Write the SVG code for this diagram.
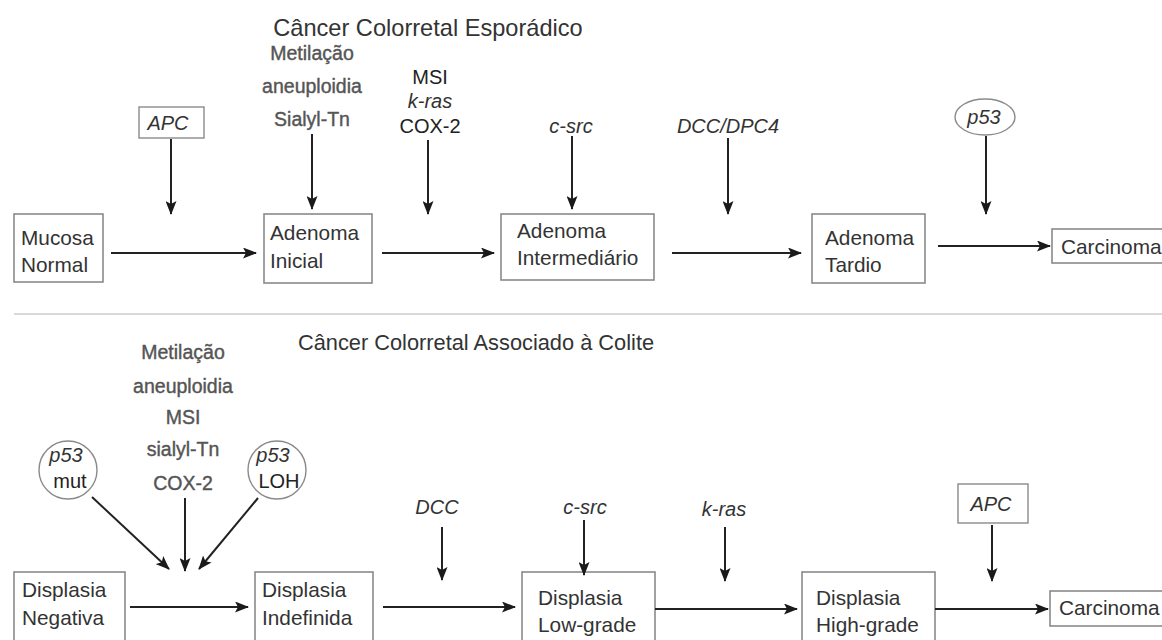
<svg xmlns="http://www.w3.org/2000/svg" width="1162" height="640" viewBox="0 0 1162 640">
<defs>
<marker id="ah" markerUnits="userSpaceOnUse" markerWidth="14" markerHeight="11" refX="13" refY="5.5" orient="auto">
<path d="M0,0 L14,5.5 L0,11 L3,5.5 z" fill="#1a1a1a"/>
</marker>
<style>
.box{fill:#fff;stroke:#8a8a8a;stroke-width:1.6}
.t{font-family:"Liberation Sans",Arial,sans-serif;font-size:20.8px;fill:#333}
.title{font-family:"Liberation Sans",Arial,sans-serif;fill:#333;text-anchor:middle}
.g{font-family:"Liberation Sans",Arial,sans-serif;font-size:19.5px;fill:#555;text-anchor:middle;stroke:#555;stroke-width:0.4}
.k{font-family:"Liberation Sans",Arial,sans-serif;font-size:20px;fill:#222;text-anchor:middle}
.i{font-family:"Liberation Sans",Arial,sans-serif;font-size:20px;fill:#333;font-style:italic;text-anchor:middle}
.c{fill:#fff;stroke:#8a8a8a;stroke-width:1.4}
.e{stroke:#222;stroke-width:2;fill:none;marker-end:url(#ah)}
</style>
</defs>
<rect width="1162" height="640" fill="#fff"/>
<line x1="14" y1="314" x2="1162" y2="314" stroke="#d8d8d8" stroke-width="2"/>
<text class="title" x="428" y="36" font-size="23.6">Câncer Colorretal Esporádico</text>
<text class="title" x="476" y="350" font-size="21.8">Câncer Colorretal Associado à Colite</text>

<g id="labels-top">
<text class="g" x="312" y="60">Metilação</text>
<text class="g" x="312" y="93">aneuploidia</text>
<text class="g" x="312" y="126">Sialyl-Tn</text>
<text class="k" x="430" y="84">MSI</text>
<text class="i" x="430" y="108">k-ras</text>
<text class="k" x="430" y="133">COX-2</text>
<text class="i" x="571" y="133">c-src</text>
<text class="i" x="728" y="133">DCC/DPC4</text>
</g>
<g id="apc-top"><rect class="c" x="139" y="107" width="65" height="31"/><text class="i" x="168" y="130">APC</text></g>
<g id="p53-top"><ellipse class="c" cx="985" cy="117" rx="30" ry="18"/><text class="i" x="984" y="124">p53</text></g>

<g id="mucosa"><rect class="box" x="14" y="214" width="89" height="68"/><text class="t" x="21" y="245">Mucosa</text><text class="t" x="21" y="272">Normal</text></g>
<g id="adenoma-inicial"><rect class="box" x="264" y="214" width="108" height="69"/><text class="t" x="270" y="240">Adenoma</text><text class="t" x="270" y="268">Inicial</text></g>
<g id="adenoma-intermediario"><rect class="box" x="501" y="214" width="153" height="66"/><text class="t" x="517" y="238">Adenoma</text><text class="t" x="517" y="265">Intermediário</text></g>
<g id="adenoma-tardio"><rect class="box" x="812" y="214" width="113" height="69"/><text class="t" x="825" y="245">Adenoma</text><text class="t" x="825" y="272">Tardio</text></g>
<g id="carcinoma-top"><rect class="box" x="1052" y="229" width="120" height="34"/><text class="t" x="1061" y="254">Carcinoma</text></g>

<g id="labels-bottom">
<text class="g" x="183" y="359">Metilação</text>
<text class="g" x="183" y="393">aneuploidia</text>
<text class="g" x="183" y="424">MSI</text>
<text class="g" x="183" y="456">sialyl-Tn</text>
<text class="g" x="183" y="490">COX-2</text>
<text class="i" x="437" y="514">DCC</text>
<text class="i" x="585" y="514">c-src</text>
<text class="i" x="724" y="516">k-ras</text>
</g>
<g id="p53-mut"><circle class="c" cx="68" cy="470" r="29"/><text class="i" x="66" y="462">p53</text><text class="k" x="70" y="488" fill="#333">mut</text></g>
<g id="p53-loh"><circle class="c" cx="277" cy="470" r="29"/><text class="i" x="273" y="462">p53</text><text class="k" x="279" y="488" fill="#333">LOH</text></g>
<g id="apc-bottom"><rect class="c" x="958" y="484" width="70" height="39"/><text class="i" x="991" y="511">APC</text></g>

<g id="displasia-negativa"><rect class="box" x="14" y="572" width="111" height="75"/><text class="t" x="22" y="597">Displasia</text><text class="t" x="22" y="625">Negativa</text></g>
<g id="displasia-indefinida"><rect class="box" x="255" y="572" width="118" height="75"/><text class="t" x="262" y="597">Displasia</text><text class="t" x="262" y="625">Indefinida</text></g>
<g id="displasia-low"><rect class="box" x="522" y="572" width="133" height="75"/><text class="t" x="538" y="605">Displasia</text><text class="t" x="538" y="632">Low-grade</text></g>
<g id="displasia-high"><rect class="box" x="802" y="572" width="133" height="75"/><text class="t" x="816" y="605">Displasia</text><text class="t" x="816" y="632">High-grade</text></g>
<g id="carcinoma-bottom"><rect class="box" x="1050" y="591" width="120" height="35"/><text class="t" x="1059" y="615">Carcinoma</text></g>

<g id="connectors">
<line class="e" x1="171" y1="139" x2="171" y2="214"/>
<line class="e" x1="312" y1="134" x2="312" y2="209"/>
<line class="e" x1="428" y1="140" x2="428" y2="214"/>
<line class="e" x1="572" y1="136" x2="572" y2="209"/>
<line class="e" x1="728" y1="138" x2="728" y2="214"/>
<line class="e" x1="986" y1="136" x2="986" y2="214"/>
<line class="e" x1="111" y1="253" x2="256" y2="253"/>
<line class="e" x1="382" y1="253" x2="494" y2="253"/>
<line class="e" x1="672" y1="253" x2="801" y2="253"/>
<line class="e" x1="938" y1="246" x2="1050" y2="246"/>

<line class="e" x1="92" y1="497" x2="169" y2="569"/>
<line class="e" x1="185" y1="498" x2="185" y2="571"/>
<line class="e" x1="258" y1="498" x2="199" y2="569"/>
<line class="e" x1="442" y1="527" x2="442" y2="580"/>
<line class="e" x1="584" y1="520" x2="584" y2="575"/>
<line class="e" x1="725" y1="527" x2="725" y2="581"/>
<line class="e" x1="992" y1="525" x2="992" y2="581"/>
<line class="e" x1="130" y1="607" x2="248" y2="607"/>
<line class="e" x1="383" y1="607" x2="515" y2="607"/>
<line class="e" x1="655" y1="609" x2="797" y2="609"/>
<line class="e" x1="935" y1="609" x2="1048" y2="609"/>
</g>
</svg>
